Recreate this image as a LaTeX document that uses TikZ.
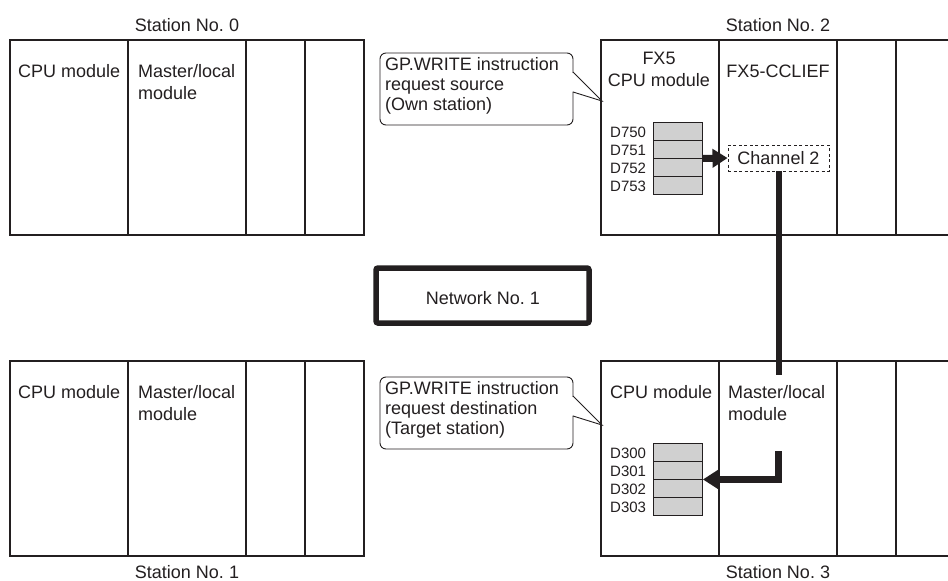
\documentclass[tikz,border=0pt]{standalone}
\usepackage{fontspec}
\setmainfont{Liberation Sans}
\usetikzlibrary{arrows.meta}
\frenchspacing
\definecolor{ink}{RGB}{35,31,32}
\definecolor{cellgray}{RGB}{208,208,208}
\newcommand\drawstation[2]{%
  \draw[divider] (#1+118,#2) -- ++(0,195);
  \draw[divider] (#1+236,#2) -- ++(0,195);
  \draw[divider] (#1+295,#2) -- ++(0,195);
  \draw[frameline] (#1,#2) rectangle ++(354,195);
}
\newcommand\drawnote[2]{% x0 y0 of box top left
  \draw[noteline, rounded corners=6pt] (#1,#2) rectangle ++(193,72);
  \fill[white] (#1+192,#2+20) -- (#1+194.5,#2+20) -- (#1+220,#2+47) -- (#1+194.5,#2+38.5) -- (#1+192,#2+38.5) -- cycle;
  \draw[noteline, line join=miter] (#1+193,#2+19) -- (#1+222,#2+48) -- (#1+193,#2+39);
}
\begin{document}
\begin{tikzpicture}[x=1pt,y=-1pt,
  lbl/.style={font=\fontsize{18}{21}\selectfont, text=ink, inner sep=0pt, anchor=base west},
  clbl/.style={font=\fontsize{18}{21}\selectfont, text=ink, inner sep=0pt, anchor=base},
  dlbl/.style={font=\fontsize{15}{18}\selectfont, text=ink, inner sep=0pt, anchor=base west},
  frameline/.style={draw=ink, line width=2.7pt},
  divider/.style={draw=ink, line width=1.1pt},
  noteline/.style={draw=ink, line width=0.9pt},
  memcells/.style={draw=ink, fill=cellgray, line width=0.9pt, inner sep=0pt, minimum width=49pt, minimum height=72pt, anchor=north west},
  chanbox/.style={draw=ink, dash pattern=on 3pt off 2.5pt, line width=0.9pt, minimum width=101pt, minimum height=26pt, inner sep=0pt, font=\fontsize{18}{21}\selectfont, text=ink},
  netbox/.style={draw=ink, line width=5.5pt, rounded corners=2pt, minimum width=213pt, minimum height=55pt, inner sep=0pt},
  bus/.style={draw=ink, line width=6pt},
  bigarrow/.style={draw=ink, line width=7pt, -{Triangle[length=15pt,width=18pt]}},
]
\useasboundingbox (0,0) rectangle (948,581);
\fill[white] (0,0) rectangle (948,581);

% stations
\drawstation{10}{40}
\drawstation{601}{40}
\drawstation{10}{361}
\drawstation{601}{361}

\node[clbl] (st0) at (187,31) {Station No. 0};
\node[clbl] (st2) at (778,31) {Station No. 2};
\node[clbl] (st1) at (187,578) {Station No. 1};
\node[clbl] (st3) at (778,578) {Station No. 3};

% station 0
\node[lbl] (cpu0) at (18,77.5) {CPU module};
\node[lbl] (ml0a) at (138,77.5) {Master/local};
\node[lbl] (ml0b) at (138,99.5) {module};
% station 1
\node[lbl] (cpu1) at (18,398.5) {CPU module};
\node[lbl] (ml1a) at (138,398.5) {Master/local};
\node[lbl] (ml1b) at (138,420) {module};
% station 2
\node[clbl] (fx5a) at (659,64.5) {FX5};
\node[clbl] (fx5b) at (659,86.5) {CPU module};
\node[clbl] (ccl) at (778,77.5) {FX5-CCLIEF};
% station 3
\node[lbl] (cpu3) at (610,398.5) {CPU module};
\node[lbl] (ml3a) at (728,398.5) {Master/local};
\node[lbl] (ml3b) at (728,420) {module};

% memory cells station 2
\node[memcells] (cellsA) at (653,122) {};
\draw[noteline] (653,140) -- (702,140) (653,158) -- (702,158) (653,176) -- (702,176);
\node[dlbl] (d750) at (610,137) {D750};
\node[dlbl] (d751) at (610,155) {D751};
\node[dlbl] (d752) at (610,173) {D752};
\node[dlbl] (d753) at (610,191) {D753};

% memory cells station 3
\node[memcells] (cellsB) at (653,443) {};
\draw[noteline] (653,461) -- (702,461) (653,479) -- (702,479) (653,497) -- (702,497);
\node[dlbl] (d300) at (610,458) {D300};
\node[dlbl] (d301) at (610,476) {D301};
\node[dlbl] (d302) at (610,494) {D302};
\node[dlbl] (d303) at (610,512) {D303};

% channel box
\node[chanbox] (chan) at (778.5,158) {Channel 2};

% connectors
\draw[bigarrow] (cellsA.east) -- (chan.west);
\coordinate (busend) at (778.5,375);
\coordinate (mlstart) at (778.5,451);
\draw[bus] (chan.south) -- (busend);
\draw[bigarrow] (mlstart) -- (mlstart |- cellsB.east) -- (cellsB.east);

% network
\node[netbox] (net) at (482.5,295.5) {};
\node[clbl] (netlbl) at (483,304.5) {Network No. 1};

% callouts
\drawnote{380}{53}
\node[lbl] (srcA) at (385,70) {GP.WRITE instruction};
\node[lbl] (srcB) at (385,90) {request source};
\node[lbl] (srcC) at (385,110) {(Own station)};

\drawnote{380}{377}
\node[lbl] (dstA) at (385,394) {GP.WRITE instruction};
\node[lbl] (dstB) at (385,414) {request destination};
\node[lbl] (dstC) at (385,434) {(Target station)};
\end{tikzpicture}
\end{document}
